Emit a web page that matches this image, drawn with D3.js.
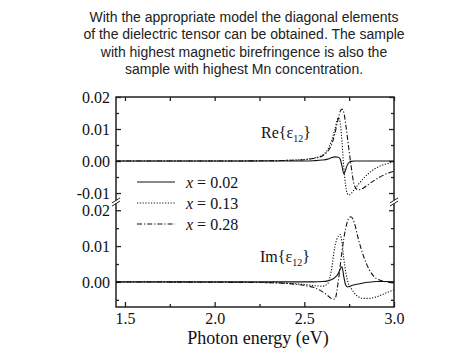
<!DOCTYPE html>
<html>
<head>
<meta charset="utf-8">
<script src="https://cdnjs.cloudflare.com/ajax/libs/d3/7.8.5/d3.min.js"></script>
<style>
  body { margin: 0; background: #fff; }
</style>
</head>
<body>
<div id="chart"></div>
<script>
var titleLines = [
  "With the appropriate model the diagonal elements",
  "of the dielectric tensor can be obtained. The sample",
  "with highest magnetic birefringence is also the",
  "sample with highest Mn concentration."
];

// photon energy grid (eV)
var energy = [1.45, 2.0, 2.3, 2.4, 2.5, 2.55, 2.6, 2.63, 2.65, 2.67, 2.69, 2.70, 2.71,
  2.72, 2.73, 2.74, 2.75, 2.76, 2.78, 2.8, 2.83, 2.86, 2.9, 2.95, 3.0];

// Re{eps12}
var reX002 = [0, 0, 0, 0, 0, 0.0001, 0.0003, 0.0006, 0.001, 0.0013, 0.0012, 0.0006, -0.0015,
  -0.004, -0.0028, -0.0012, -0.0004, -0.0001, 0, 0, 0, 0, 0, 0, 0];
var reX013 = [0, 0, 0.0001, 0.0002, 0.0005, 0.0009, 0.0018, 0.0035, 0.006, 0.0098, 0.0135, 0.012, 0.006,
  -0.002, -0.0075, -0.0102, -0.0106, -0.0102, -0.0088, -0.0074, -0.0054, -0.0038, -0.0022, -0.001, -0.0003];
var reX028 = [0, 0, 0.0001, 0.0002, 0.0004, 0.0008, 0.0016, 0.003, 0.0048, 0.0085, 0.0135, 0.0155, 0.0162,
  0.0152, 0.0118, 0.0075, 0.003, -0.0012, -0.0078, -0.009, -0.0084, -0.0072, -0.0057, -0.0042, -0.0032];

// Im{eps12}
var imX002 = [0, 0, 0, 0, 0, 0, 0.0001, 0.0003, 0.0006, 0.0012, 0.0024, 0.0036, 0.0042,
  0.0015, -0.0008, -0.0014, -0.0013, -0.0011, -0.0008, -0.0006, -0.0003, -0.0001, 0.0001, 0.0001, 0];
var imX013 = [0, -0.0001, -0.0002, -0.0004, -0.0007, -0.001, -0.0012, -0.0005, 0.003, 0.0098, 0.0128, 0.0132, 0.011,
  0.0065, 0.003, 0.0005, -0.001, -0.0017, -0.0032, -0.0041, -0.0046, -0.0046, -0.0042, -0.0032, -0.0022];
var imX028 = [0, -0.0001, -0.0002, -0.0004, -0.001, -0.0015, -0.0027, -0.0038, -0.0046, -0.0048, 0.0005, 0.0045, 0.0085,
  0.012, 0.0148, 0.0168, 0.0179, 0.0182, 0.0163, 0.0122, 0.0072, 0.0036, 0.001, 0.0001, -0.0003];

var seriesLabels = ["0.02", "0.13", "0.28"];
var xTicks = [1.5, 2.0, 2.5, 3.0];
var xMinor = [1.75, 2.25, 2.75];
var reTicks = [0.02, 0.01, 0.00, -0.01];
var reMinor = [0.015, 0.005, -0.005];
var imTicks = [0.02, 0.01, 0.00];
var imMinor = [0.015, 0.005, -0.005];

var serif = "'Liberation Serif', 'Times New Roman', serif";
var dashes = [null, "1.2,1.6", "5,2,1.2,2"];

var svg = d3.select("#chart").append("svg")
  .attr("width", 471)
  .attr("height", 361);

svg.selectAll("text.title")
  .data(titleLines)
  .enter()
  .append("text")
    .attr("class", "title")
    .attr("x", 244)
    .attr("y", function (d, i) { return 22 + i * 17.3; })
    .attr("text-anchor", "middle")
    .style("font-family", "'Liberation Sans', Arial, sans-serif")
    .style("font-size", "14px")
    .style("fill", "#222")
    .text(function (d) { return d; });

var plotL = 116, plotR = 394, plotT = 97, plotB = 307, brk = 202;

var x = d3.scaleLinear().domain([1.45, 3.0]).range([plotL, plotR]);
var yRe = d3.scaleLinear().domain([-0.0128, 0.02]).range([brk, plotT]);
var yIm = d3.scaleLinear().domain([-0.007, 0.0223]).range([plotB, brk]);

var fmt = function (d) { return d.toFixed(2); };

function styleAxis(g) {
  g.select(".domain").remove();
  g.selectAll("line").attr("stroke", "#222").attr("stroke-width", 1.3);
  g.selectAll("text").style("font-family", serif).style("font-size", "16px").attr("fill", "#111");
}

// y axes, left + right, both panels
[[yRe, reTicks, reMinor], [yIm, imTicks, imMinor]].forEach(function (p) {
  svg.append("g").attr("transform", "translate(" + plotL + ",0)")
    .call(d3.axisLeft(p[0]).tickValues(p[1]).tickSizeInner(-5).tickSizeOuter(0).tickPadding(6).tickFormat(fmt))
    .call(styleAxis);
  svg.append("g").attr("transform", "translate(" + plotL + ",0)")
    .call(d3.axisLeft(p[0]).tickValues(p[2]).tickSizeInner(-3).tickSizeOuter(0).tickFormat(""))
    .call(styleAxis);
  svg.append("g").attr("transform", "translate(" + plotR + ",0)")
    .call(d3.axisRight(p[0]).tickValues(p[1]).tickSizeInner(-5).tickSizeOuter(0).tickFormat(""))
    .call(styleAxis);
  svg.append("g").attr("transform", "translate(" + plotR + ",0)")
    .call(d3.axisRight(p[0]).tickValues(p[2]).tickSizeInner(-3).tickSizeOuter(0).tickFormat(""))
    .call(styleAxis);
});

// x axes
svg.append("g").attr("transform", "translate(0," + plotB + ")")
  .call(d3.axisBottom(x).tickValues(xTicks).tickSizeInner(-5).tickSizeOuter(0).tickPadding(6).tickFormat(d3.format(".1f")))
  .call(styleAxis);
svg.append("g").attr("transform", "translate(0," + plotB + ")")
  .call(d3.axisBottom(x).tickValues(xMinor).tickSizeInner(-3).tickSizeOuter(0).tickFormat(""))
  .call(styleAxis);
svg.append("g").attr("transform", "translate(0," + plotT + ")")
  .call(d3.axisTop(x).tickValues(xTicks.concat(xMinor)).tickSizeInner(-4).tickSizeOuter(0).tickFormat(""))
  .call(styleAxis);

// frame
svg.append("rect")
  .attr("x", plotL).attr("y", plotT)
  .attr("width", plotR - plotL).attr("height", plotB - plotT)
  .attr("fill", "none").attr("stroke", "#222").attr("stroke-width", 1.5);

// curves
var panels = [
  { y: yRe, series: [reX002, reX013, reX028] },
  { y: yIm, series: [imX002, imX013, imX028] }
];
panels.forEach(function (p) {
  var line = d3.line()
    .x(function (d, i) { return x(energy[i]); })
    .y(function (d) { return p.y(d); })
    .curve(d3.curveMonotoneX);
  p.series.forEach(function (s, k) {
    svg.append("path")
      .datum(s)
      .attr("d", line)
      .attr("fill", "none")
      .attr("stroke", "#111")
      .attr("stroke-width", 1.1)
      .attr("stroke-dasharray", dashes[k]);
  });
});

// axis break marks
[plotL, plotR].forEach(function (bx) {
  svg.append("rect")
    .attr("x", bx - 2).attr("y", brk - 1.5)
    .attr("width", 4).attr("height", 3)
    .attr("fill", "#fff");
  [-1.6, 1.6].forEach(function (o) {
    svg.append("line")
      .attr("x1", bx - 4).attr("y1", brk + o + 2.5)
      .attr("x2", bx + 4).attr("y2", brk + o - 2.5)
      .attr("stroke", "#222").attr("stroke-width", 1);
  });
});

// legend
seriesLabels.forEach(function (lab, i) {
  var ly = 182 + i * 21;
  svg.append("line")
    .attr("x1", 137).attr("x2", 175)
    .attr("y1", ly).attr("y2", ly)
    .attr("stroke", "#111").attr("stroke-width", 1.1)
    .attr("stroke-dasharray", dashes[i]);
  var t = svg.append("text")
    .attr("x", 186).attr("y", ly + 5.5)
    .style("font-family", serif).style("font-size", "16px").attr("fill", "#111");
  t.append("tspan").style("font-style", "italic").text("x");
  t.append("tspan").text(" = " + lab);
});

// panel labels
function componentLabel(px, py, part) {
  var t = svg.append("text")
    .attr("x", px).attr("y", py)
    .style("font-family", serif).style("font-size", "16px").attr("fill", "#111");
  t.append("tspan").text(part + "{\u03b5");
  t.append("tspan").attr("dy", 4).style("font-size", "10px").text("12");
  t.append("tspan").attr("dy", -4).text("}");
}
componentLabel(261, 138, "Re");
componentLabel(260, 262, "Im");

// x axis title
svg.append("text")
  .attr("x", 258).attr("y", 344)
  .attr("text-anchor", "middle")
  .style("font-family", serif).style("font-size", "18px").attr("fill", "#111")
  .text("Photon energy (eV)");
</script>
</body>
</html>
